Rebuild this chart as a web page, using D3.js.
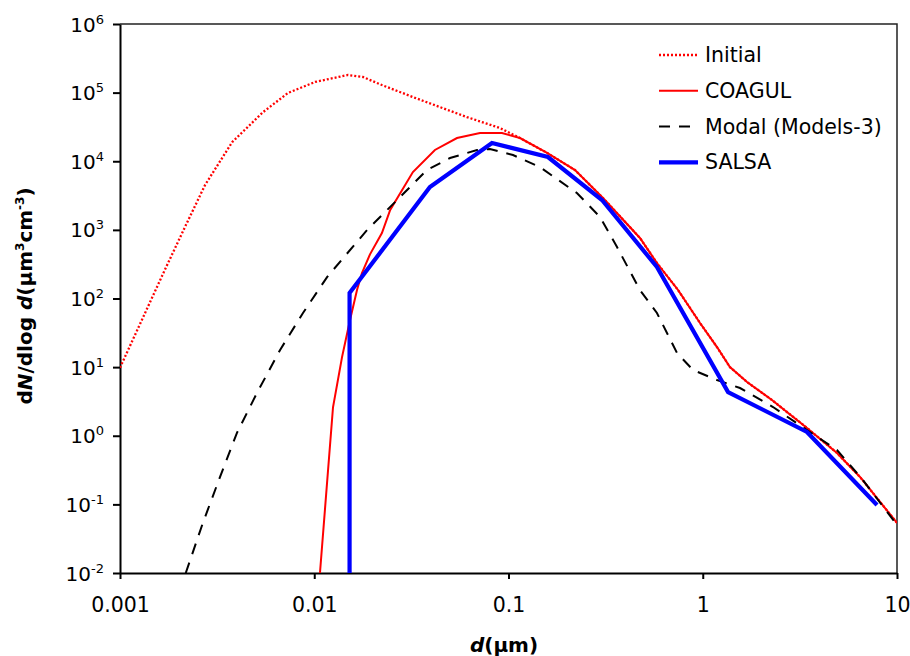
<!DOCTYPE html>
<html>
<head>
<meta charset="utf-8">
<script src="https://cdn.jsdelivr.net/npm/d3@7"></script>
<style>
  body { margin: 0; background: #fff; }
  svg { font-family: "DejaVu Sans", sans-serif; }
</style>
</head>
<body>
<script>
//size of the picture
var w = 910;
var h = 656;

//particle diameters (um) and dN/dlog d values
var initialD = [0.001, 0.00139, 0.0017, 0.00216, 0.00274, 0.00378, 0.00545, 0.00733, 0.0101, 0.0149, 0.0178, 0.0223, 0.033, 0.0611, 0.0903, 0.1146, 0.158, 0.22, 0.3065, 0.475, 0.581, 0.746, 0.968, 1.184, 1.38, 1.69, 2.27, 3.44, 4.91, 6.45, 10];
var initialN = [9.8, 75, 260, 1100, 4500, 19000, 52000, 99000, 143000, 181000, 169000, 129000, 84000, 44000, 30500, 21800, 13200, 7450, 2914, 762, 329, 133, 44, 19.6, 10, 6.07, 3.32, 1.30, 0.561, 0.251, 0.0536];

var coagulD = [0.0107, 0.01249, 0.0139, 0.01528, 0.0166, 0.0176, 0.01936, 0.0223, 0.0246, 0.0322, 0.0418, 0.0543, 0.0713, 0.0926, 0.1146, 0.158, 0.22, 0.3065, 0.475, 0.581, 0.746, 0.968, 1.184, 1.38, 1.69, 2.27, 3.44, 4.91, 6.45, 10];
var coagulN = [0.01, 2.6, 14, 48.6, 133, 235, 440, 900, 1950, 6970, 14600, 21800, 25800, 25800, 21800, 13200, 7450, 2914, 762, 329, 133, 44, 19.6, 10, 6.07, 3.32, 1.30, 0.561, 0.251, 0.0536];

var modalD = [0.00218, 0.00267, 0.00327, 0.0040, 0.00507, 0.00667, 0.00875, 0.01164, 0.0187, 0.0267, 0.038, 0.05, 0.0689, 0.0803, 0.1055, 0.145, 0.225, 0.296, 0.362, 0.475, 0.581, 0.737, 0.891, 1.184, 1.555, 2.30, 3.44, 4.91, 6.68, 10];
var modalN = [0.01, 0.0536, 0.25, 1.1, 4.2, 17.8, 61.5, 205, 995, 2725, 7450, 11140, 14580, 15070, 12310, 8240, 3440, 1540, 562, 133, 61.5, 16.1, 9.08, 6.49, 4.96, 2.62, 1.21, 0.62, 0.226, 0.05];

var salsaD = [0.0152, 0.0152, 0.0394, 0.0822, 0.1596, 0.303, 0.581, 1.35, 3.44, 7.89];
var salsaN = [0.001, 120, 4215, 18450, 11530, 2725, 288, 4.33, 1.135, 0.098];

//tick values
var xTicks = [0.001, 0.01, 0.1, 1, 10];
var xTickLabels = ["0.001", "0.01", "0.1", "1", "10"];
var yTicks = [-2, -1, 0, 1, 2, 3, 4, 5, 6];

var seriesNames = ["Initial", "COAGUL", "Modal (Models-3)", "SALSA"];

//plot area (plotTop, not top: window.top is taken)
var plotLeft = 120, plotRight = 897, plotTop = 24, plotBottom = 573;

var svg = d3.select("body")
            .append("svg")
            .attr("width", w)
            .attr("height", h);

var x = d3.scaleLog().domain([0.001, 10]).range([plotLeft, plotRight]);
var y = d3.scaleLog().domain([0.01, 1e6]).range([plotBottom, plotTop]);

//clip so the curves stop at the axes
svg.append("clipPath")
   .attr("id", "plot")
   .append("rect")
   .attr("x", plotLeft)
   .attr("y", plotTop)
   .attr("width", plotRight - plotLeft)
   .attr("height", plotBottom - plotTop);

//frame on top and right
svg.append("path")
   .attr("d", "M" + plotLeft + "," + plotTop + "H" + plotRight + "V" + plotBottom)
   .attr("fill", "none")
   .attr("stroke", "#222")
   .attr("stroke-width", 1.5);

//x axis
var xAxis = svg.append("g")
   .attr("transform", "translate(0," + plotBottom + ")")
   .call(d3.axisBottom(x).tickValues(xTicks).tickSize(6).tickSizeOuter(0).tickFormat(function(d, i) { return xTickLabels[i]; }));
xAxis.select(".domain").attr("stroke-width", 2).attr("stroke", "#000");
xAxis.selectAll(".tick line").attr("stroke-width", 2);
xAxis.selectAll(".tick text")
     .attr("font-size", 20.5)
     .attr("font-family", "DejaVu Sans")
     .attr("fill", "#000")
     .attr("y", 39)
     .attr("dy", 0);

//y axis, labels done by hand for the superscripts
var yAxis = svg.append("g")
   .attr("transform", "translate(" + plotLeft + ",0)")
   .call(d3.axisLeft(y).tickValues(yTicks.map(function(e) { return Math.pow(10, e); })).tickSize(7).tickSizeOuter(0).tickFormat(""));
yAxis.select(".domain").attr("stroke-width", 2).attr("stroke", "#000");
yAxis.selectAll(".tick line").attr("stroke-width", 2);

var yLab = svg.append("g")
   .selectAll("text")
   .data(yTicks)
   .enter()
   .append("text")
   .attr("x", 104)
   .attr("y", function(d) { return y(Math.pow(10, d)) + 7.5; })
   .attr("text-anchor", "end")
   .attr("font-size", 20);
yLab.append("tspan").text("10");
yLab.append("tspan")
    .attr("font-size", 13)
    .attr("dy", -8)
    .text(function(d) { return d; });

//curves
var line = d3.line()
             .x(function(d) { return x(d[0]); })
             .y(function(d) { return y(d[1]); });

function pairs(a, b) {
    return a.map(function(v, i) { return [v, b[i]]; });
}

var styles = [
    {data: pairs(initialD, initialN), color: "#ff0000", width: 2.3, dash: "2,2"},
    {data: pairs(coagulD, coagulN), color: "#ff0000", width: 2, dash: null},
    {data: pairs(modalD, modalN), color: "#000000", width: 2, dash: "11,9"},
    {data: pairs(salsaD, salsaN), color: "#0000ff", width: 4.2, dash: null}
];

var curves = svg.append("g").attr("clip-path", "url(#plot)");
curves.selectAll("path")
      .data(styles)
      .enter()
      .append("path")
      .attr("d", function(d) { return line(d.data); })
      .attr("fill", "none")
      .attr("stroke", function(d) { return d.color; })
      .attr("stroke-width", function(d) { return d.width; })
      .attr("stroke-dasharray", function(d) { return d.dash; })
      .attr("stroke-linejoin", "miter");

//legend
var legend = svg.append("g")
   .selectAll("g")
   .data(styles)
   .enter()
   .append("g")
   .attr("transform", function(d, i) { return "translate(659," + (55 + i * 35.8) + ")"; });
legend.append("line")
      .attr("x1", 0)
      .attr("x2", 39)
      .attr("stroke", function(d) { return d.color; })
      .attr("stroke-width", function(d) { return d.width; })
      .attr("stroke-dasharray", function(d) { return d.dash; });
legend.append("text")
      .attr("x", 46)
      .attr("y", 7)
      .attr("font-size", 20.5)
      .text(function(d, i) { return seriesNames[i]; });

//axis titles
var xt = svg.append("text")
   .attr("x", 504)
   .attr("y", 652)
   .attr("text-anchor", "middle")
   .attr("font-size", 20)
   .attr("font-weight", "bold");
xt.append("tspan").attr("font-style", "italic").text("d");
xt.append("tspan").text("(µm)");

var yt = svg.append("text")
   .attr("transform", "translate(32,296) rotate(-90)")
   .attr("text-anchor", "middle")
   .attr("font-size", 20)
   .attr("font-weight", "bold");
yt.append("tspan").text("d");
yt.append("tspan").attr("font-style", "italic").text("N");
yt.append("tspan").text("/dlog ");
yt.append("tspan").attr("font-style", "italic").text("d");
yt.append("tspan").text("(µm");
yt.append("tspan").attr("font-size", 12).attr("dy", -8).text("3");
yt.append("tspan").attr("dy", 8).text("cm");
yt.append("tspan").attr("font-size", 12).attr("dy", -8).text("-3");
yt.append("tspan").attr("dy", 8).text(")");
</script>
</body>
</html>
